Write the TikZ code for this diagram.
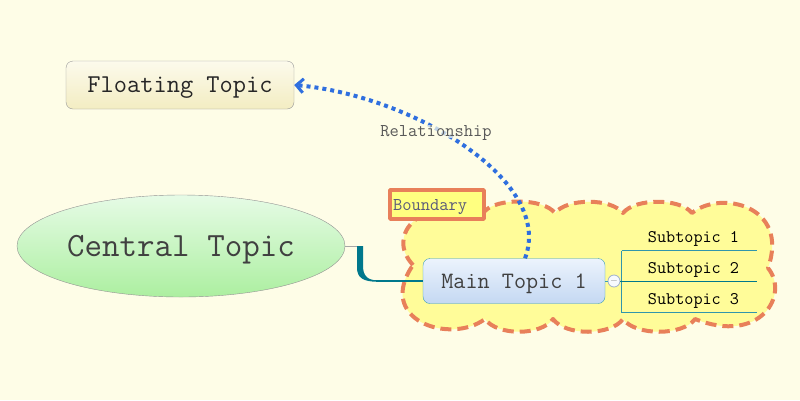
\documentclass[tikz,border=0pt]{standalone}
\usepackage{fontspec}
\usepackage{tikz}
\usetikzlibrary{shapes.geometric}
\usetikzlibrary{positioning}
\usetikzlibrary{arrows.meta}

\definecolor{paper}{HTML}{FEFDE7}
\definecolor{boundfill}{HTML}{FFFC99}
\definecolor{boundorange}{HTML}{E8805A}
\definecolor{boundlabel}{HTML}{FFFF80}
\definecolor{boundtext}{HTML}{5A5A7A}
\definecolor{ctop}{HTML}{E6FBE6}
\definecolor{cbot}{HTML}{ACEFA0}
\definecolor{ftop}{HTML}{FCFAEC}
\definecolor{fbot}{HTML}{F3EDC2}
\definecolor{mtop}{HTML}{ECF3FD}
\definecolor{mbot}{HTML}{C4D8F2}
\definecolor{mtborder}{HTML}{3A9CB5}
\definecolor{linkteal}{HTML}{00788C}
\definecolor{subline}{HTML}{3096AC}
\definecolor{relblue}{HTML}{2F6FDF}
\definecolor{foldborder}{HTML}{A0B2CC}

\newcommand\ctfont{\ttfamily\fontsize{34}{37}\selectfont}
\newcommand\ftfont{\ttfamily\fontsize{25.7}{28}\selectfont}
\newcommand\mtfont{\ttfamily\fontsize{23.5}{26}\selectfont}
\newcommand\smallmono{\ttfamily\fontsize{18}{20}\selectfont}

\begin{document}
\begin{tikzpicture}[x=1pt,y=-1pt,line join=round,
    topic/.style={rounded corners=7pt,inner sep=0pt,text depth=0pt},
    subtopic/.style={minimum width=135pt,minimum height=30.5pt,inner sep=0pt,
        text height=15pt,text depth=0pt,font=\ttfamily\fontsize{17.7}{20}\selectfont},
    subedge/.style={draw=subline,line width=1pt},
    relation/.style={draw=relblue,line width=4pt,dash pattern=on 4pt off 4pt,
        -{Straight Barb[length=7pt,width=14pt,line width=3pt]}},
    boundline/.style={draw=boundorange,line width=4pt,dash pattern=on 11pt off 6pt,
        fill=boundfill}]
\useasboundingbox (0,0) rectangle (800,400);
\fill[paper] (0,0) rectangle (800,400);

\path[boundline] (413,265) .. controls (385,235) and (420,195) .. (485,211)
    .. controls (497,198) and (543,198) .. (555,213)
    .. controls (567,198) and (611,198) .. (623,213)
    .. controls (635,198) and (680,198) .. (692,213)
    .. controls (720,190) and (790,205) .. (768,268)
    .. controls (790,295) and (760,345) .. (695,319)
    .. controls (683,336) and (635,336) .. (623,319)
    .. controls (611,336) and (565,336) .. (553,319)
    .. controls (541,336) and (497,336) .. (485,319)
    .. controls (450,345) and (375,320) .. (413,265) -- cycle;

\node[draw=boundorange,line width=3.5pt,fill=boundlabel,text width=88pt,
    minimum height=29pt,inner xsep=3pt,inner ysep=0pt,align=left,text depth=0pt,
    font=\smallmono,text=boundtext] (bd) at (437,204.5) {Boundary};

\node[ellipse,draw=gray!85,top color=ctop,bottom color=cbot,minimum width=328pt,
    minimum height=102pt,inner sep=0pt,text depth=0pt,font=\ctfont,text=black!75] (ct) at (181,246) {Central Topic};
\node[topic,draw=gray!80,top color=ftop,bottom color=fbot,minimum width=228pt,
    minimum height=48pt,font=\ftfont,text=black!85] (ft) at (180,85) {Floating Topic};
\node[topic,draw=mtborder,top color=mtop,bottom color=mbot,minimum width=182pt,
    minimum height=45pt,font=\mtfont,text=black!75] (mt) at (514,281) {Main Topic 1};

\draw[gray!70,line width=1pt] (ct.east) -- ++(15,0) coordinate (jt);
\fill[linkteal] (357,246) -- (363,246) -- (363,266) .. controls (363,275) and (367,280.2) .. (377,280.3)
    -- (377,281.7) .. controls (364,281.7) and (357,278) .. (357,268) -- cycle;
\draw[linkteal,line width=1.5pt] (mt.west) -- ++(-47,0);

\node[circle,draw=foldborder,fill=white!60!mtop,minimum size=12pt,inner sep=0pt,line width=0.8pt,
    font=\fontsize{10}{10}\selectfont,text=gray] (fold) at (614,281) {$-$};
\draw[mtborder,line width=1pt] (mt.east) -- (fold.west);

\node[subtopic] (s1) at (689.5,235.25) {\hspace*{8pt}Subtopic 1};
\node[subtopic,below=0pt of s1] (s2) {\hspace*{8pt}Subtopic 2};
\node[subtopic,below=0pt of s2] (s3) {\hspace*{8pt}Subtopic 3};
\path[subedge] (s1.south west) -- (s1.south east);
\path[subedge] (s3.south west) -- (s3.south east);
\path[subedge] (s1.south west) -- (s3.south west);
\draw[linkteal,line width=1pt] (fold.east) -- (fold.east -| s2.south east);

\draw[relation] ([xshift=11pt]mt.north) .. controls (555,180) and (410,95) .. (ft.east);
\node[fill=paper,fill opacity=0.7,text opacity=1,inner sep=1pt,text depth=0pt,font=\smallmono,
    text=black!65] (rel) at (436,131) {Relationship};
\end{tikzpicture}
\end{document}
